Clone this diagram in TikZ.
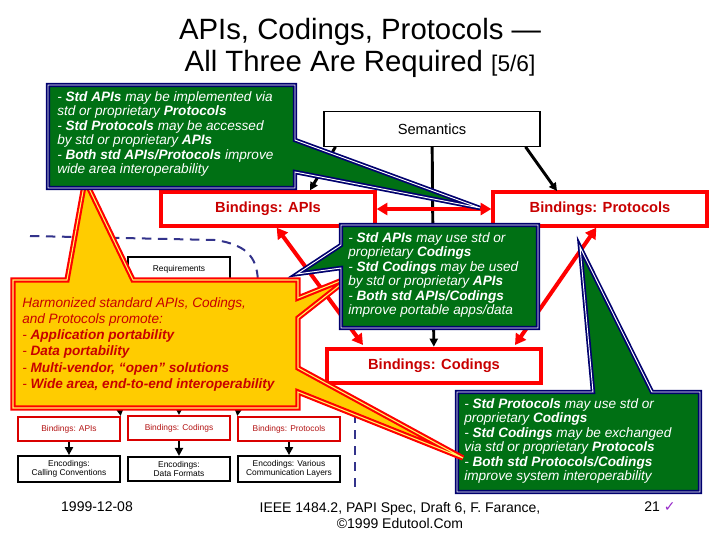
\documentclass[tikz,border=0pt]{standalone}
\usepackage{fontspec}
\setmainfont{Liberation Sans}
\newfontfamily\dejavu{DejaVu Sans}
\usetikzlibrary{arrows.meta}
\definecolor{gfill}{RGB}{0,112,20}
\definecolor{navyb}{RGB}{0,0,110}
\definecolor{yfill}{RGB}{255,204,0}
\definecolor{rtext}{RGB}{200,0,0}
\definecolor{dred}{RGB}{180,20,20}
\definecolor{chk}{RGB}{150,40,200}
\begin{document}
\begin{tikzpicture}[x=0.75pt,y=-0.75pt,
  gcall/.style={fill=gfill,draw=navyb,line width=1.3pt,double=white,double distance=0.7pt,line join=miter},
  ycall/.style={fill=yfill,draw=red,line width=1.6pt,double=yellow!60!white,double distance=0.8pt,line join=miter},
  gtxt/.style={text=white,align=left,anchor=north west,inner sep=0pt,font=\fontsize{10.2}{10.9}\selectfont\itshape},
  bbox/.style={draw=red,line width=3pt,fill=white,text=rtext,font=\fontsize{11}{12}\selectfont\bfseries},
  sbox/.style={draw=red!85!black,line width=1.5pt,fill=white,text=dred,font=\fontsize{6.3}{7}\selectfont},
  ebox/.style={draw=black,line width=1.5pt,fill=white,align=center,font=\fontsize{6.3}{6.8}\selectfont},
  barr/.style={-{Triangle[length=6pt,width=6pt]},line width=2.2pt,black},
  rarr/.style={{Triangle[length=8pt,width=9pt]}-{Triangle[length=8pt,width=9pt]},line width=3pt,red}]
\useasboundingbox (0,0) rectangle (720,540);
% title
\node (t1) at (360,32) {\fontsize{22}{24}\selectfont APIs, Codings, Protocols ---};
\node (t2) at (360,64) {\fontsize{22}{24}\selectfont All Three Are Required \fontsize{17}{18}\selectfont[5/6]};
% dashed boundary
\draw[navyb!80,line width=1.5pt,dash pattern=on 7pt off 5pt] (30,236) -- (215,240) .. controls (250,245) and (258,260) .. (258,285) -- (258,300);
\draw[navyb!80,line width=1.5pt,dash pattern=on 7pt off 5pt] (355,398) -- (355,488);
% requirements & small boxes
\node[draw=black,line width=1.5pt,fill=white,minimum width=76pt,minimum height=18pt,font=\fontsize{6.3}{7}\selectfont] (req) at (179,269) {Requirements};
\node[sbox,minimum width=76pt,minimum height=18pt] (sa) at (69,429) {Bindings: APIs};
\node[sbox,minimum width=76pt,minimum height=18pt] (sc) at (179,428) {Bindings: Codings};
\node[sbox,minimum width=76pt,minimum height=18pt] (sp) at (289,429) {Bindings: Protocols};
\node[ebox,minimum width=76pt,minimum height=18pt] (ea) at (69,469) {Encodings:\\Calling Conventions};
\node[ebox,minimum width=76pt,minimum height=18pt] (ec) at (179,469) {Encodings:\\Data Formats};
\node[ebox,minimum width=76pt,minimum height=18pt] (ep) at (289,469) {Encodings: Various\\Communication Layers};
\coordinate (ua) at (118,395); \coordinate (uc) at (179,395); \coordinate (up) at (240,395);
\draw[barr] (ua) -- (sa.north east);
\draw[barr] (uc) -- (sc.north);
\draw[barr] (up) -- (sp.north west);
\draw[barr] (sa) -- (ea);
\draw[barr] (sc) -- (ec);
\draw[barr] (sp) -- (ep);
% big boxes
\node[draw=black,line width=0.8pt,fill=white,minimum width=162pt,minimum height=26pt,font=\fontsize{11}{12}\selectfont] (sem) at (432,129) {Semantics};
\node[bbox,minimum width=160pt,minimum height=25pt] (ba) at (268,209) {Bindings: APIs};
\node[bbox,minimum width=160pt,minimum height=25pt] (bp) at (600,209) {Bindings: Protocols};
\node[bbox,minimum width=160pt,minimum height=26pt] (bc) at (434,366) {Bindings: Codings};
\draw[barr] (sem.south west) ++(12,0) coordinate (s1) -- (ba.north -| 310,0);
\draw[barr] (sem) -- (bc);
\draw[barr] (sem.south east) ++(-15,0) coordinate (s3) -- (557,191);
\draw[rarr] (ba) -- (bp);
\draw[rarr] (ba.south east) ++(-100,0) coordinate (r1) -- (363,345);
\draw[rarr] (bp.south west) ++(105,0) coordinate (r2) -- (515,345);
% green callout 3
\draw[gcall] (457,392) -- (593,392) -- (580,247) -- (652,392) -- (700,392) -- (700,492) -- (457,492) -- cycle;
\node[gtxt] (g3) at (464,398) {- \textbf{Std Protocols} may use std or\\proprietary \textbf{Codings}\\- \textbf{Std Codings} may be exchanged\\via std or proprietary \textbf{Protocols}\\- \textbf{Both std Protocols/Codings}\\improve system interoperability};
% yellow callout
\draw[ycall] (13,280) -- (67,280) -- (85,180) -- (133,280) -- (298,280) -- (298,298) -- (350,277) -- (298,318) -- (298,368) -- (463,458) -- (298,392) -- (298,408) -- (13,408) -- cycle;
\node[anchor=north west,inner sep=0pt,align=left,text=rtext,font=\fontsize{10.2}{12.2}\selectfont\itshape] (y1) at (22,297) {Harmonized standard APIs, Codings,\\and Protocols promote:\\- \textbf{Application portability}\\- \textbf{Data portability}\\- \textbf{Multi-vendor, “open” solutions}\\- \textbf{Wide area, end-to-end interoperability}};
% green callout 1
\draw[gcall] (48,85) -- (295,85) -- (295,140) -- (480,208) -- (295,172) -- (295,188) -- (48,188) -- cycle;
\node[gtxt] (g1) at (57,91) {- \textbf{Std APIs} may be implemented via\\std or proprietary \textbf{Protocols}\\- \textbf{Std Protocols} may be accessed\\by std or proprietary \textbf{APIs}\\- \textbf{Both std APIs/Protocols} improve\\wide area interoperability};
% green callout 2
\draw[gcall] (341,225) -- (538,225) -- (538,328) -- (341,328) -- (341,268) -- (297,274) -- (341,245) -- cycle;
\node[gtxt] (g2) at (348,232) {- \textbf{Std APIs} may use std or\\proprietary \textbf{Codings}\\- \textbf{Std Codings} may be used\\by std or proprietary \textbf{APIs}\\- \textbf{Both std APIs/Codings}\\improve portable apps/data};
% footer
\node[font=\fontsize{10.5}{12}\selectfont] (f1) at (97,507) {1999-12-08};
\node[font=\fontsize{10.5}{12}\selectfont,align=center] (f2) at (400,515) {IEEE 1484.2, PAPI Spec, Draft 6, F. Farance,\\©1999 Edutool.Com};
\node[font=\fontsize{10.5}{12}\selectfont] (f3) at (660,507) {21 \textcolor{chk}{\dejavu ✓}};
\end{tikzpicture}
\end{document}
